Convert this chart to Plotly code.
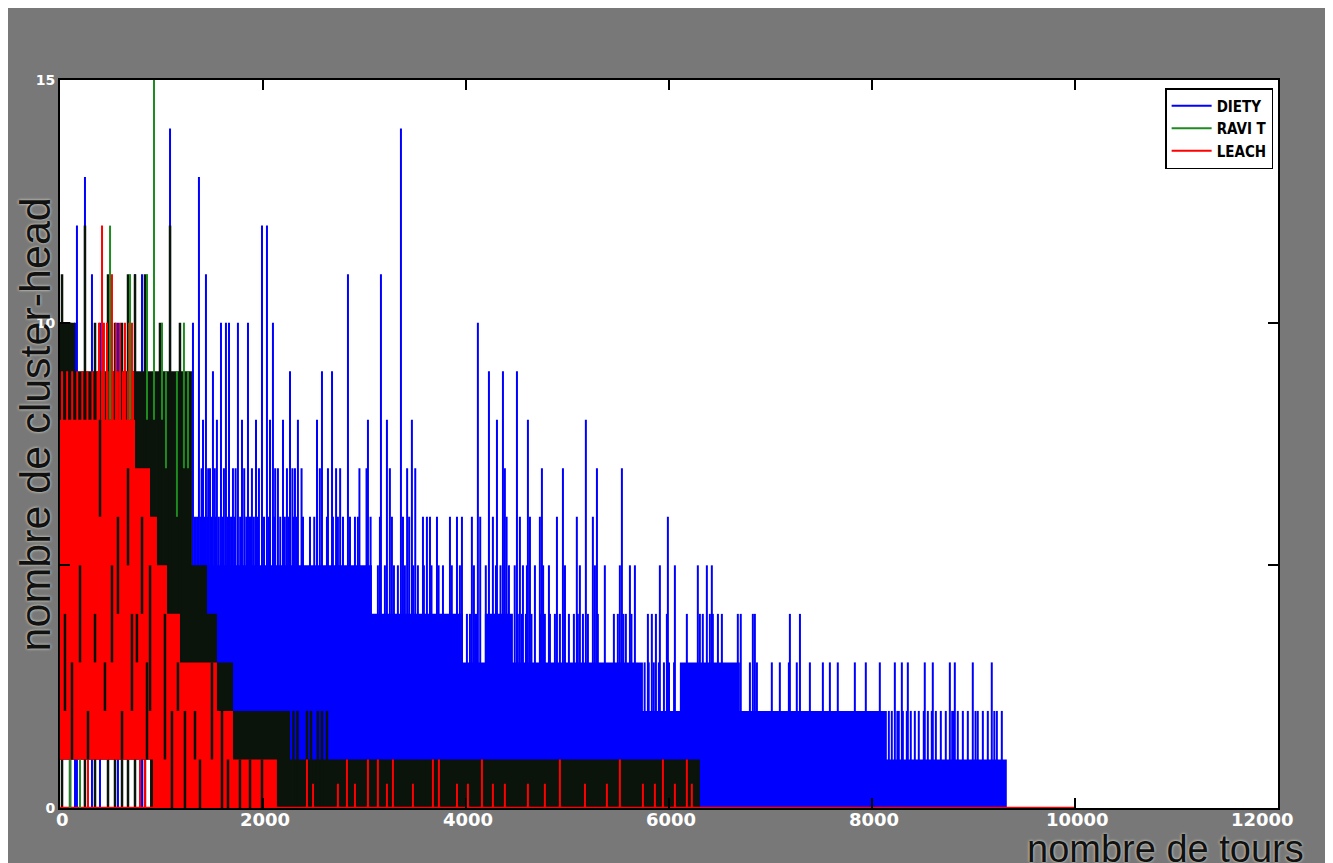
import plotly.graph_objects as go

# ---------------- axes ----------------
x_tick_vals = [0, 2000, 4000, 6000, 8000, 10000, 12000]
x_tick_text = ["0", "2000", "4000", "6000", "8000", "10000", "12000"]
y_tick_vals = [0, 5, 10, 15]
y_tick_text = ["0", "", "10", "15"]
x_title = "nombre de tours"
y_title = "nombre de cluster-head"
series_names = ["DIETY", "RAVI T", "LEACH"]

# ---------------- DIETY (blue) ----------------
diety_band_edges = [0, 930, 3073, 3970, 4186, 4462, 5743, 6107, 6698, 8146, 9328]
diety_band_top = [5, 5, 4, 3, 4, 3, 2, 3, 2, 1]
diety_band_bottom = [1, 0, 0, 0, 0, 0, 0, 0, 0, 0]

diety_spike_x = [
    167, 246, 315, 99, 148, 394, 571, 739, 808, 1084,
    1310, 1369, 1409, 1438, 1478, 1507, 1546, 1586, 1635, 1665, 1704, 1753, 1793, 1852,
    1891, 1931, 1990, 2039, 2069, 2098, 2147, 2197, 2236, 2266, 2315, 2344,
    1395, 1460, 1525, 1615, 1730, 1815, 1960, 2120, 2290,
    1330, 1350, 1385, 1420, 1450, 1490, 1535, 1565, 1600, 1650, 1685, 1720, 1775, 1835,
    1865, 1880, 1910, 1945, 2010, 2055, 2110, 2170, 2215, 2250, 2300, 2330,
    2532, 2581, 2680, 2837, 3034, 3162, 3221, 3359, 3467, 4117, 4226, 4364, 4502, 4305, 4610, 5181,
    2380, 2560, 2640, 2720, 2760, 2950, 3020, 3250, 3420, 3500, 4383, 4748, 4955, 5290, 5536,
    2394, 2463, 2505, 2630, 2689, 2738, 2788, 2857, 2906, 2935, 3060, 3152, 3270, 3379, 3440,
    3576, 3615, 3645, 3714, 3842, 3911, 3960, 4058, 4140, 4265, 4400, 4531, 4630, 4728, 4896,
    5092, 5250, 5989,
    3132, 3201, 3290, 3329, 3398, 3480, 3526, 3585, 3660, 3730, 3773, 3860, 3940, 4078, 4195,
    4295, 4340, 4423, 4480, 4561, 4600, 4679, 4760, 4817, 4975, 5122, 5270, 5368, 5516, 5615,
    5664, 5910, 6058, 6284, 6373, 6422,
    4009, 4039, 4090, 4108, 4511, 4551, 4590, 4645, 4738, 4777, 4827, 4876, 4925, 5014, 5063,
    5102, 5152, 5201, 5299, 5457, 5496, 5550, 5575, 5630, 5792, 5831, 5871, 5979, 6176, 6304,
    6333, 6403, 6432, 6482, 6521, 6678, 6707, 6826, 6846, 7191, 7290,
    5760, 5800, 5850, 5900, 5950, 6000, 6050, 6797, 6866, 7013, 7092, 7181, 7259, 7388, 7516,
    7585, 7663, 7831, 7939, 8077, 8225, 8294, 8353, 8520, 8599, 8767, 8816, 8993, 9180,
    8166, 8195, 8250, 8264, 8304, 8343, 8382, 8422, 8461, 8510, 8550, 8589, 8629, 8678, 8727,
    8790, 8806, 8845, 8895, 8944, 9020, 9042, 9092, 9141, 9205, 9230, 9279,
]
diety_spike_y = [
    12, 13, 11, 10, 10, 10, 10, 11, 11, 14,
    10, 13, 8, 11, 7, 9, 8, 10, 10, 10, 7, 10, 8, 10,
    7, 8, 12, 12, 8, 10, 7, 8, 7, 9, 7, 8,
    7, 7, 7, 7, 7, 7, 7, 7, 7,
    6, 6, 6, 6, 6, 6, 6, 6, 6, 6, 6, 6, 6, 6,
    6, 6, 6, 6, 6, 6, 6, 6, 6, 6, 6, 6,
    8, 9, 9, 11, 8, 11, 8, 14, 8, 10, 9, 9, 9, 8, 8, 8,
    7, 7, 7, 7, 7, 7, 7, 7, 7, 7, 7, 7, 7, 7, 7,
    6, 6, 6, 6, 6, 6, 6, 6, 6, 6, 6, 6, 6, 6, 6,
    6, 6, 6, 6, 6, 6, 6, 6, 6, 6, 6, 6, 6, 6, 6,
    6, 6, 6,
    5, 5, 5, 5, 5, 5, 5, 5, 5, 5, 5, 5, 5, 5, 5,
    5, 5, 5, 5, 5, 5, 5, 5, 5, 5, 5, 5, 5, 5, 5,
    5, 5, 5, 5, 5, 5,
    4, 4, 4, 4, 4, 4, 4, 4, 4, 4, 4, 4, 4, 4, 4,
    4, 4, 4, 4, 4, 4, 4, 4, 4, 4, 4, 4, 4, 4, 4,
    4, 4, 4, 4, 4, 4, 4, 4, 4, 4, 4,
    3, 3, 3, 3, 3, 3, 3, 3, 3, 3, 3, 3, 3, 3, 3,
    3, 3, 3, 3, 3, 3, 3, 3, 3, 3, 3, 3, 3, 3,
    2, 2, 2, 2, 2, 2, 2, 2, 2, 2, 2, 2, 2, 2, 2,
    2, 2, 2, 2, 2, 2, 2, 2, 2, 2, 2, 2,
]

# ---------------- RAVI T (dark green, renders almost black) ----------------
ravi_band_edges = [0, 148, 887, 1300, 1448, 1546, 1704, 2266, 6304]
ravi_band_top = [10, 9, 9, 5, 4, 3, 2, 1]
ravi_band_bottom = [1, 1, 0, 0, 0, 0, 0, 0]

ravi_dark_x = [20, 99, 246, 345, 473, 542, 611, 670, 739, 837, 985, 1084, 1182,
               2300, 2340, 2433, 2473, 2541, 2581, 2630]
ravi_dark_y = [11, 10, 12, 10, 11, 10, 10, 11, 11, 11, 10, 12, 10,
               2, 2, 2, 2, 2, 2, 2]

ravi_over_x = [49, 118, 197, 276, 345, 394, 443, 512, 571, 611, 670, 709, 758, 808,
               857, 887, 1034, 1103, 1162, 1231, 1330, 1379, 1497, 1596, 1655, 1773, 1872, 1990]
ravi_over_lo = [2, 1, 3, 1, 3, 6, 2, 3, 4, 1, 5, 2, 3, 4, 1, 2, 1, 0, 2, 0, 1, 0, 1, 0, 0, 0, 0, 0]
ravi_over_hi = [4, 3, 5, 2, 4, 8, 3, 5, 6, 2, 7, 4, 4, 6, 3, 5, 4, 2, 3, 2, 2, 1, 3, 2, 1, 1, 1, 1]

ravi_green_x = [493, 690, 857, 926, 1005, 1044, 1152, 1221, 1261, 99, 197]
ravi_green_lo = [8, 8, 8, 8, 8, 7, 6, 7, 7, 0, 0]
ravi_green_hi = [12, 11, 11, 15, 10, 9, 9, 10, 9, 1, 1]

# ---------------- LEACH (red) ----------------
leach_band_edges = [0, 739, 887, 916, 955, 1054, 1182, 1546, 1704, 2137]
leach_band_top = [8, 7, 6, 6, 5, 4, 3, 2, 1]
leach_band_bottom = [1, 1, 1, 0, 0, 0, 0, 0, 0]

leach_seg_x = [414, 512, 384, 433, 463, 552, 591, 640, 680, 709,
               20, 70, 120, 170, 220, 270, 320, 370, 470, 520, 570, 620, 670, 720,
               276, 788, 837,
               2433, 2493, 2738, 2827, 2906, 3034, 3132, 3221, 3280, 3477, 3674, 3733, 3911,
               4019, 4157, 4265, 4383, 4610, 4777, 4925, 5172, 5388, 5516, 5743, 5861, 5940,
               6058, 6176, 6225]
leach_seg_lo = [1, 1, 1, 1, 1, 1, 1, 1, 1, 1,
                1, 1, 1, 1, 1, 1, 1, 1, 1, 1, 1, 1, 1, 1,
                0, 0, 0,
                0, 0, 0, 0, 0, 0, 0, 0, 0, 0, 0, 0, 0,
                0, 0, 0, 0, 0, 0, 0, 0, 0, 0, 0, 0, 0,
                0, 0, 0]
leach_seg_hi = [12, 11, 10, 10, 10, 10, 10, 10, 10, 10,
                9, 9, 9, 9, 9, 9, 9, 9, 9, 9, 9, 9, 9, 9,
                1, 1, 1,
                1, 0.5, 0.5, 1, 0.5, 1, 1, 0.5, 1, 0.5, 1, 1, 0.5,
                0.5, 1, 0.5, 0.5, 0.5, 0.5, 1, 0.5, 0.5, 1, 0.5, 0.5, 1,
                0.5, 1, 0.5]
leach_tail_x = [0, 10000]
leach_tail_y = [0, 0]

BLUE = "#0000ff"
RED = "#ff0000"
GREEN = "#1f8a1f"
DARK = "rgb(10,20,10)"


def band_polygon(edges, top, bottom):
    xs, ys = [], []
    for i in range(len(top)):
        xs += [edges[i], edges[i + 1]]
        ys += [top[i], top[i]]
    for i in reversed(range(len(bottom))):
        xs += [edges[i + 1], edges[i]]
        ys += [bottom[i], bottom[i]]
    xs.append(xs[0])
    ys.append(ys[0])
    return xs, ys


def segments(xv, lo, hi):
    xs, ys = [], []
    for x, a, b in zip(xv, lo, hi):
        xs += [x, x, None]
        ys += [a, b, None]
    return xs, ys


fig = go.Figure()

# DIETY
bx, by = band_polygon(diety_band_edges, diety_band_top, diety_band_bottom)
fig.add_trace(go.Scatter(x=bx, y=by, fill="toself", fillcolor=BLUE, mode="lines",
                         line=dict(width=0, color=BLUE), showlegend=False, hoverinfo="skip"))
sx, sy = segments(diety_spike_x, [0] * len(diety_spike_x), diety_spike_y)
fig.add_trace(go.Scatter(x=sx, y=sy, mode="lines", line=dict(color=BLUE, width=2),
                         name=series_names[0], legendrank=1, hoverinfo="skip"))

# RAVI T dense band
rx, ry = band_polygon(ravi_band_edges, ravi_band_top, ravi_band_bottom)
fig.add_trace(go.Scatter(x=rx, y=ry, fill="toself", fillcolor=DARK, mode="lines",
                         line=dict(width=0, color=DARK), showlegend=False, hoverinfo="skip"))
dx, dy = segments(ravi_dark_x, [0] * len(ravi_dark_x), ravi_dark_y)
fig.add_trace(go.Scatter(x=dx, y=dy, mode="lines", line=dict(color=DARK, width=2.5),
                         showlegend=False, hoverinfo="skip"))

# LEACH
lx, ly = band_polygon(leach_band_edges, leach_band_top, leach_band_bottom)
fig.add_trace(go.Scatter(x=lx, y=ly, fill="toself", fillcolor=RED, mode="lines",
                         line=dict(width=0, color=RED), showlegend=False, hoverinfo="skip"))
ex, ey = segments(leach_seg_x, leach_seg_lo, leach_seg_hi)
fig.add_trace(go.Scatter(x=ex, y=ey, mode="lines", line=dict(color=RED, width=2),
                         name=series_names[2], legendrank=3, hoverinfo="skip"))
fig.add_trace(go.Scatter(x=leach_tail_x, y=leach_tail_y, mode="lines",
                         line=dict(color=RED, width=2.5), showlegend=False, hoverinfo="skip"))

# RAVI T lines over red and green lines
ox, oy = segments(ravi_over_x, ravi_over_lo, ravi_over_hi)
fig.add_trace(go.Scatter(x=ox, y=oy, mode="lines", line=dict(color=DARK, width=2.5),
                         showlegend=False, hoverinfo="skip"))
gx, gy = segments(ravi_green_x, ravi_green_lo, ravi_green_hi)
fig.add_trace(go.Scatter(x=gx, y=gy, mode="lines", line=dict(color=GREEN, width=2),
                         name=series_names[1], legendrank=2, hoverinfo="skip"))

TICKFONT = dict(family="DejaVu Sans, Liberation Sans", size=18, color="white", weight="bold")
TITLEFONT = "Liberation Sans, Arial"

annotations = []
for v, t in zip(x_tick_vals, x_tick_text):
    annotations.append(dict(text=t, x=v, xref="x", y=0, yref="paper",
                            xanchor="center", yanchor="middle", yshift=-11, borderpad=0,
                            xshift=(-16 if v == x_tick_vals[-1] else 2),
                            showarrow=False, font=TICKFONT))
annotations.append(dict(text=y_title, xref="paper", yref="paper", x=-0.0205, y=0.527,
                        xanchor="center", yanchor="middle", textangle=-90, showarrow=False,
                        font=dict(family=TITLEFONT, size=43, color="#111111",
                                  shadow="0px 0px 3px #f0f0e0")))
annotations.append(dict(text=x_title, xref="paper", yref="paper", x=1.0222, y=0,
                        xanchor="right", yanchor="middle", yshift=-41, borderpad=0,
                        showarrow=False,
                        font=dict(family=TITLEFONT, size=38, color="#111111",
                                  shadow="0px 0px 3px #f0f0e0")))

fig.update_layout(
    width=1325, height=856,
    margin=dict(l=52, r=55, t=72, b=56),
    paper_bgcolor="#787878",
    plot_bgcolor="white",
    showlegend=True,
    legend=dict(x=0.996, y=0.989, xanchor="right", yanchor="top",
                bgcolor="white", bordercolor="black", borderwidth=1.5,
                font=dict(family="Liberation Sans Narrow, DejaVu Sans Condensed, Arial",
                          size=15, color="black", weight="bold"),
                tracegroupgap=2, itemwidth=40),
    xaxis=dict(range=[0, 12000], tickvals=x_tick_vals, ticktext=x_tick_text,
               showticklabels=False,
               ticks="inside", ticklen=10, tickwidth=2, tickcolor="black",
               showline=True, linecolor="black", linewidth=2, mirror="ticks",
               showgrid=False, zeroline=False),
    yaxis=dict(range=[0, 15], tickvals=y_tick_vals, ticktext=y_tick_text,
               ticks="inside", ticklen=10, tickwidth=2, tickcolor="black",
               showline=True, linecolor="black", linewidth=2, mirror="ticks",
               showgrid=False, zeroline=False,
               tickfont=dict(family="DejaVu Sans, Liberation Sans", size=14, color="white",
                             weight="bold")),
    annotations=annotations,
)

fig.write_html("out.html")
